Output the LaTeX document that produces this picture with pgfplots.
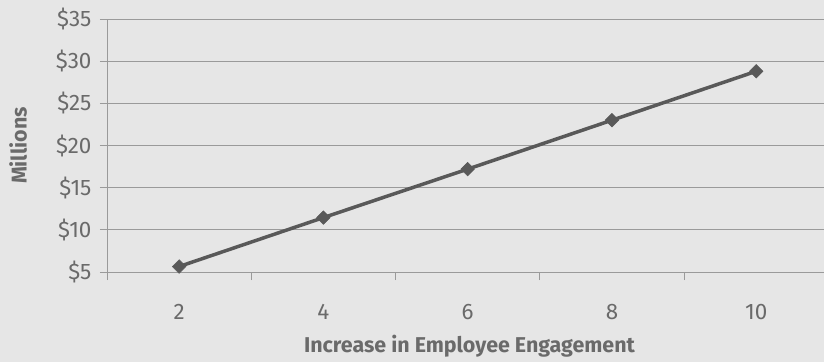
\documentclass[border=0pt]{standalone}
\usepackage{fontspec}
\setmainfont{Fira Sans}
\usepackage{pgfplots}
\pgfplotsset{compat=1.18}
\definecolor{bg}{HTML}{E6E6E6}
\definecolor{txt}{HTML}{6A6A6A}
\definecolor{gridc}{HTML}{9A9A9A}
\definecolor{linec}{HTML}{595959}
\begin{document}
\begin{tikzpicture}
\path[fill=bg, use as bounding box] (-107bp,-90bp) rectangle (717bp,272bp);
\begin{axis}[
  at={(0,0)}, anchor=south west,
  scale only axis,
  width=717bp, height=253bp,
  xmin=-0.5, xmax=4.47,
  ymin=5, ymax=35,
  axis x line*=bottom, axis y line*=left,
  axis line style={gridc, line width=1pt},
  xtick={0,1,2,3,4},
  xticklabels={2,4,6,8,10},
  major x tick style={draw=none},
  minor xtick={-0.5,0.5,1.5,2.5,3.5},
  minor x tick style={gridc, line width=1pt},
  minor tick length=8bp,
  tick align=outside,
  ytick={5,10,15,20,25,30,35},
  yticklabels={\$5,\$10,\$15,\$20,\$25,\$30,\$35},
  major y tick style={gridc, line width=1pt},
  major tick length=7bp,
  ymajorgrids,
  grid style={gridc, line width=1pt},
  tick label style={font=\fontsize{22.5}{24}\selectfont, text=txt},
  xticklabel style={anchor=center, yshift=-33bp},
  yticklabel style={anchor=east, xshift=-5bp},
  /pgf/number format/assume math mode=true,
  xlabel={Increase in Employee Engagement},
  ylabel={Millions},
  label style={font=\fontsize{21.5}{24}\selectfont\bfseries, text=txt},
  xlabel style={at={(axis description cs:0.5056,-0.292)}, anchor=center},
  ylabel style={at={(axis description cs:-0.124,0.5)}, anchor=center},
  clip=false,
]
\addplot[linec, line width=3.5bp, mark=square*, mark size=4.8bp,
  mark options={rotate=45, fill=linec, draw=linec, line width=0.5bp}]
  coordinates {(0,5.65) (1,11.45) (2,17.2) (3,23.0) (4,28.8)};
\end{axis}
\end{tikzpicture}
\end{document}
